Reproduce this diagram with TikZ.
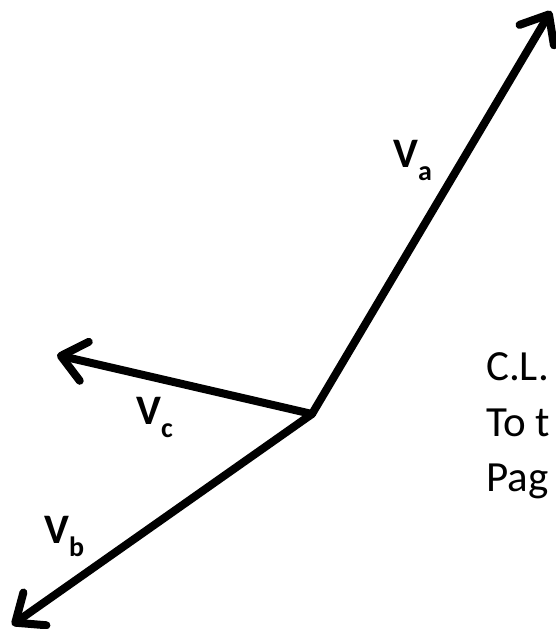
\documentclass[tikz,border=0pt]{standalone}
\usepackage{fontspec}
\setmainfont{Carlito}
\usetikzlibrary{arrows.meta}
\tikzset{
  phasor/.style={line width=8pt, line cap=round, line join=round,
    -{Straight Barb[length=24pt, width=40pt, round]}},
  vlabel/.style={anchor=base west, inner sep=0pt, font=\fontsize{42}{50}\selectfont\bfseries},
  note/.style={anchor=base west, inner sep=0pt, align=left, font=\fontsize{43}{55}\selectfont}
}
\newcommand{\vsub}[1]{\raisebox{-13pt}{\fontsize{28}{30}\selectfont\bfseries #1}}
\begin{document}
\begin{tikzpicture}[x=1pt,y=-1pt]
\useasboundingbox (0,0) rectangle (555,629);
\coordinate (O) at (312,414);
\coordinate (A) at (551,11);
\coordinate (C) at (57,355);
\coordinate (B) at (12,625);
\draw[phasor] (O) -- (A);
\draw[phasor] (O) -- (C);
\draw[phasor] (O) -- (B);
\node[vlabel] (la) at (393,167) {V\vsub{a}};
\node[vlabel] (lc) at (136,424) {V\vsub{c}};
\node[vlabel] (lb) at (44,543) {V\vsub{b}};
\node[note] (t1) at (486,380) {C.L.};
\node[note] (t2) at (486,436) {To t};
\node[note] (t3) at (486,491) {Pag};
\end{tikzpicture}
\end{document}
